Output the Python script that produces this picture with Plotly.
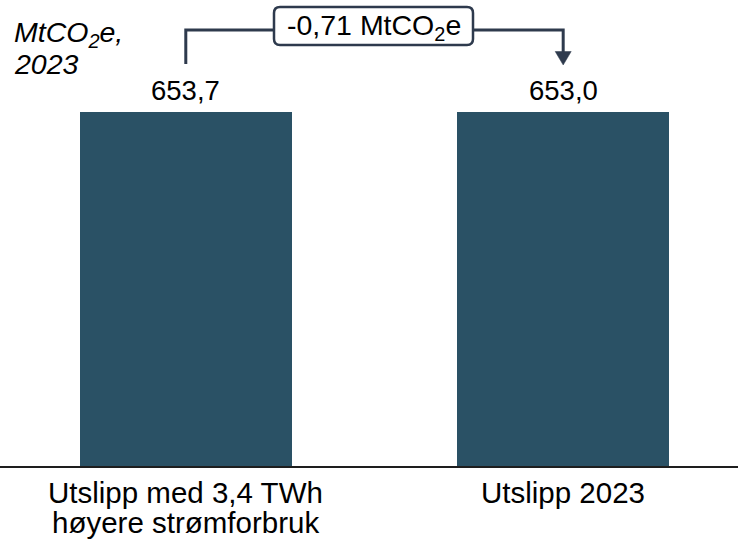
import plotly.graph_objects as go

# ---- data ----
categories = ["Utslipp med 3,4 TWh\nhøyere strømforbruk", "Utslipp 2023"]
values = [653.7, 653.0]
value_labels = ["653,7", "653,0"]
delta_label = "-0,71 MtCO<sub>2</sub>e"
unit_label = ["MtCO<sub>2</sub>e,", "2023"]

# ---- layout constants ----
W, H = 738, 542
PLOT_H = 466            # plot area height in px (axis line position)
Y_TOP = 860.5           # y-axis range top
X_RANGE = [-0.4923, 1.4632]
BAR_COLOR = "#2A5165"
LINE_COLOR = "#2E3A4D"
FONT = "Arial, Liberation Sans, sans-serif"

def xp(px):
    """pixel x -> data x"""
    return X_RANGE[0] + px / W * (X_RANGE[1] - X_RANGE[0])

def yp(px):
    """pixel y -> paper y"""
    return (PLOT_H - px) / PLOT_H

xs = list(range(len(categories)))

fig = go.Figure()
fig.add_trace(go.Bar(
    x=xs, y=values, width=0.561,
    marker=dict(color=BAR_COLOR, line=dict(width=0)),
    hoverinfo="skip",
))

shapes = []
line = dict(color=LINE_COLOR, width=3)
# bracket: left vertical + horizontal to box
shapes.append(dict(type="path", xref="x", yref="paper",
                   path=f"M {xs[0]},{yp(64)} L {xs[0]},{yp(30)} L {xp(274)},{yp(30)}",
                   line=line))
# right horizontal + vertical down to arrowhead
shapes.append(dict(type="path", xref="x", yref="paper",
                   path=f"M {xp(473)},{yp(30)} L {xs[1]},{yp(30)} L {xs[1]},{yp(53)}",
                   line=line))
# arrowhead
hw = 8 / W * (X_RANGE[1] - X_RANGE[0])
shapes.append(dict(type="path", xref="x", yref="paper",
                   path=f"M {xs[1]-hw},{yp(51.5)} L {xs[1]+hw},{yp(51.5)} L {xs[1]},{yp(65)} Z",
                   fillcolor=LINE_COLOR, line=dict(color=LINE_COLOR, width=0.5)))

# rounded box
def rounded(x0, y0, x1, y1, r):
    X0, X1 = x0 / W, x1 / W
    Y0, Y1 = yp(y1), yp(y0)  # paper: Y0 bottom, Y1 top
    rx, ry = r / W, r / PLOT_H
    return (f"M {X0+rx},{Y1} L {X1-rx},{Y1} Q {X1},{Y1} {X1},{Y1-ry} "
            f"L {X1},{Y0+ry} Q {X1},{Y0} {X1-rx},{Y0} "
            f"L {X0+rx},{Y0} Q {X0},{Y0} {X0},{Y0+ry} "
            f"L {X0},{Y1-ry} Q {X0},{Y1} {X0+rx},{Y1} Z")

shapes.append(dict(type="path", xref="paper", yref="paper",
                   path=rounded(274, 7, 473, 45, 6),
                   fillcolor="white", line=dict(color=LINE_COLOR, width=2.5)))

annotations = []
# value labels
for x, v, t in zip(xs, values, value_labels):
    annotations.append(dict(x=x, y=v, xref="x", yref="y", text=t, showarrow=False,
                            yanchor="bottom", yshift=4,
                            font=dict(family=FONT, size=27.5, color="black")))
# category labels (line by line)
for x, cat in zip(xs, categories):
    for i, ln in enumerate(cat.split("\n")):
        annotations.append(dict(x=x, y=0, xref="x", yref="paper", text=ln, showarrow=False,
                                yanchor="top", yshift=-8 - 30 * i,
                                font=dict(family=FONT, size=29.5, color="black")))
# unit label
for i, ln in enumerate(unit_label):
    annotations.append(dict(x=12 / W, y=1, xref="paper", yref="paper", text=f"<i>{ln}</i>",
                            showarrow=False, xanchor="left", yanchor="top",
                            yshift=-14 - 32 * i,
                            font=dict(family=FONT, size=28.5, color="black")))
# delta label in box
annotations.append(dict(x=373.5 / W, y=yp(27), xref="paper", yref="paper", text=delta_label,
                        showarrow=False, xanchor="center", yanchor="middle",
                        font=dict(family=FONT, size=28.5, color="black")))

fig.update_layout(
    width=W, height=H,
    margin=dict(l=0, r=0, t=0, b=H - PLOT_H),
    paper_bgcolor="white", plot_bgcolor="white",
    showlegend=False,
    xaxis=dict(range=X_RANGE, showticklabels=False, showgrid=False, zeroline=False,
               showline=True, linecolor="#1E1E1E", linewidth=2, ticks=""),
    yaxis=dict(range=[0, Y_TOP], visible=False, showgrid=False, zeroline=False),
    shapes=shapes,
    annotations=annotations,
    bargap=0,
)

fig.write_html("out.html", config={"displayModeBar": False},
               post_script="document.body.style.margin='0';document.body.style.overflow='hidden';")
